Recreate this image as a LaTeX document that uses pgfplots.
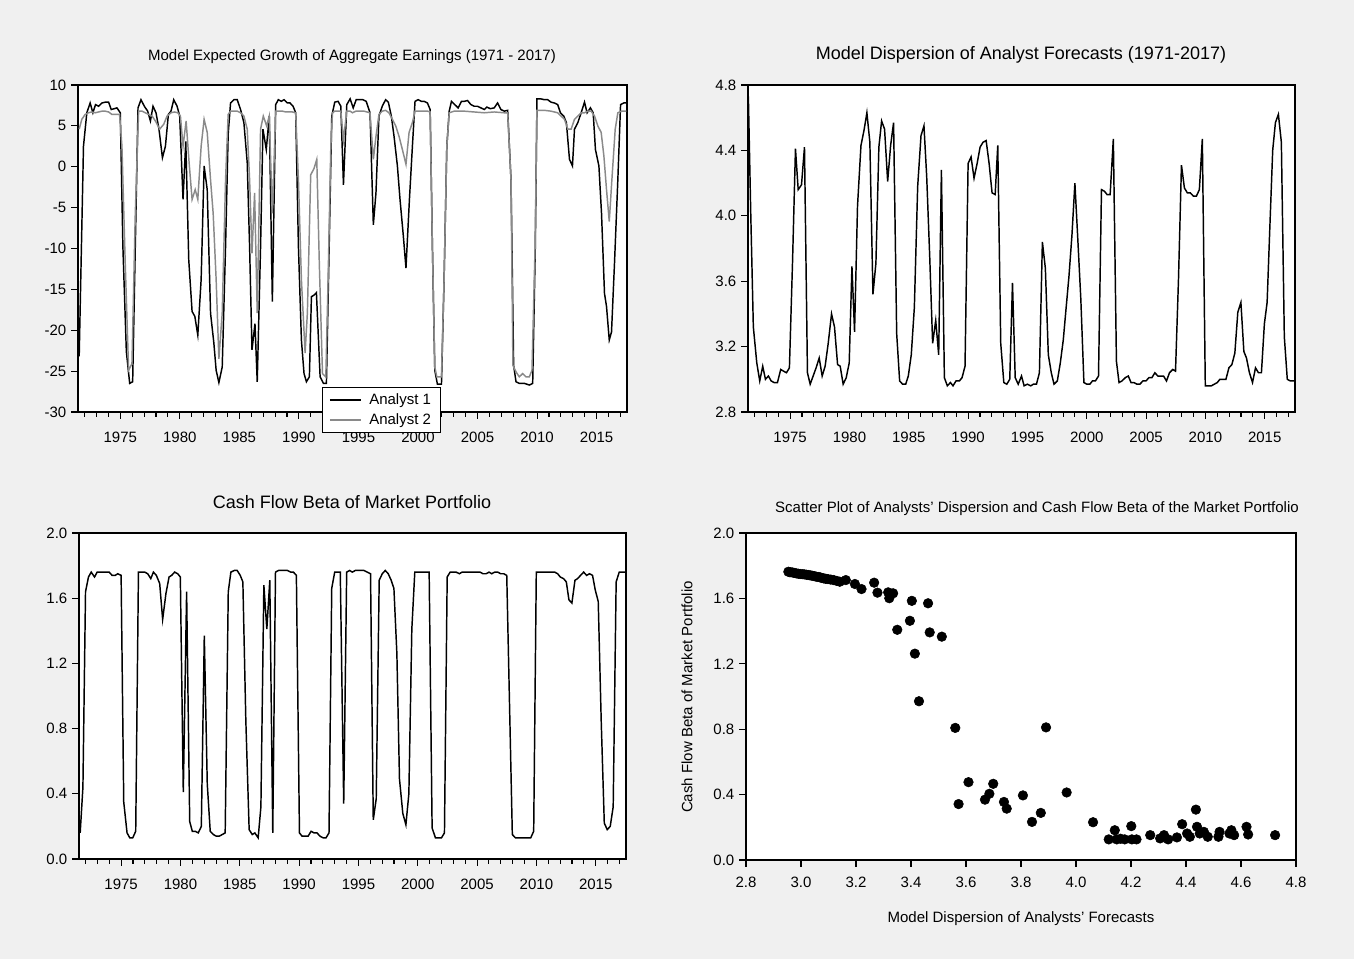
\documentclass[border=0pt]{standalone}
\usepackage{fontspec}
\setmainfont{Liberation Sans}
\usepackage{pgfplots}
\pgfplotsset{compat=1.18}

\definecolor{bgc}{HTML}{F0F0F0}
\definecolor{grayline}{HTML}{8A8A8A}

\newcommand{\smallf}{\fontsize{11.25}{13}\selectfont}
\newcommand{\bigf}{\fontsize{13.5}{16}\selectfont}

\pgfplotsset{
  panel/.style={
    scale only axis,
    anchor=south west,
    axis background/.style={fill=white},
    axis line style={line width=1.2pt},
    tick align=outside,
    xtick pos=left, ytick pos=left,
    major tick length=5.25pt,
    minor tick length=3.4pt,
    every tick/.style={black, line width=0.8pt},
    tick label style={font=\smallf},
    /pgf/number format/assume math mode=true,
    /pgf/number format/1000 sep={},
  },
  timeaxis/.style={
    panel,
    xmin=1971.45, xmax=2017.55,
    xtick={1975,1980,1985,1990,1995,2000,2005,2010,2015},
    minor xtick={1972,1973,...,2017},
    xticklabel style={yshift=-6pt},
  },
  oned/.style={
    yticklabel style={/pgf/number format/.cd, fixed, fixed zerofill, precision=1},
  },
}

\begin{document}
\begin{tikzpicture}
\useasboundingbox (0,0) rectangle (1015.5pt,719.25pt);
\fill[bgc] (0,0) rectangle (1015.5pt,719.25pt);

% ---------- top left: expected growth
\begin{axis}[timeaxis, at={(58.5pt,410.25pt)}, width=411.75pt, height=245.25pt,
  ymin=-30, ymax=10, ytick={-30,-25,...,10},
  legend style={at={(axis description cs:0.4444,0.0765)}, anchor=north west,
    draw=black, line width=0.75pt, fill=white, font=\smallf,
    inner xsep=5pt, inner ysep=2.5pt, row sep=1.5pt},
  legend cell align=left,
  legend image code/.code={\draw[#1] (0pt,0pt) -- (23.25pt,0pt); \path (27pt,0pt);},
]
\addplot[black, line width=1.1pt] coordinates {
(1971.55,-23.2) (1971.91,2.5) (1972.19,6.6) (1972.47,7.8) (1972.70,6.6) (1972.92,7.6)
(1973.18,7.4) (1973.46,7.8) (1973.74,7.9) (1974.02,7.9) (1974.24,7.0) (1974.49,7.1)
(1974.72,7.2) (1975.00,6.6) (1975.22,-9.8) (1975.51,-22.6) (1975.79,-26.5) (1976.04,-26.3)
(1976.26,-9.8) (1976.49,7.2) (1976.74,8.2) (1977.02,7.4) (1977.30,6.8) (1977.53,5.6)
(1977.75,7.4) (1978.00,6.6) (1978.25,4.6) (1978.54,1.1) (1978.79,2.5) (1979.04,6.4)
(1979.26,6.8) (1979.49,8.2) (1979.77,7.4) (1979.99,6.2) (1980.27,-4.0) (1980.50,3.1)
(1980.75,-11.4) (1981.03,-17.7) (1981.26,-18.3) (1981.51,-20.6) (1981.79,-13.8) (1982.04,0.1)
(1982.30,-2.8) (1982.58,-17.9) (1982.86,-21.6) (1983.05,-24.9) (1983.28,-26.4) (1983.56,-24.5)
(1983.84,-9.8) (1984.06,4.0) (1984.26,7.8) (1984.54,8.2) (1984.82,8.2) (1985.10,7.0)
(1985.38,5.4) (1985.66,0.5) (1985.86,-9.8) (1986.06,-22.4) (1986.31,-19.2) (1986.50,-26.3)
(1986.78,-9.8) (1986.98,4.6) (1987.26,2.1) (1987.51,6.2) (1987.77,-16.5) (1988.05,7.6)
(1988.27,8.2) (1988.52,8.0) (1988.75,8.2) (1989.03,7.8) (1989.25,7.8) (1989.51,7.4)
(1989.73,6.6) (1989.96,-9.8) (1990.21,-21.2) (1990.43,-25.3) (1990.63,-26.3) (1990.88,-25.7)
(1991.05,-15.9) (1991.27,-15.7) (1991.47,-15.4) (1991.78,-25.7) (1992.06,-26.5) (1992.31,-26.5)
(1992.54,-9.8) (1992.76,6.2) (1993.01,7.9) (1993.29,8.0) (1993.52,7.4) (1993.74,-2.2)
(1994.02,7.6) (1994.30,8.3) (1994.56,7.2) (1994.81,8.2) (1995.09,8.2) (1995.37,8.2)
(1995.65,8.0) (1995.97,6.6) (1996.25,-7.1) (1996.47,-3.2) (1996.72,6.2) (1997.00,7.4)
(1997.28,8.2) (1997.51,7.9) (1997.76,6.2) (1997.99,3.7) (1998.27,0.1) (1998.49,-4.0)
(1998.77,-8.5) (1998.99,-12.4) (1999.28,-4.0) (1999.53,2.5) (1999.75,8.0) (2000.01,8.2)
(2000.29,8.0) (2000.51,8.0) (2000.79,7.8) (2001.02,7.0) (2001.21,-9.8) (2001.41,-24.9)
(2001.63,-26.6) (2001.97,-26.6) (2002.19,-13.8) (2002.42,2.5) (2002.62,6.8) (2002.81,8.0)
(2003.09,7.6) (2003.37,7.2) (2003.65,8.0) (2003.88,8.0) (2004.16,8.1) (2004.44,7.6)
(2004.72,7.4) (2005.00,7.4) (2005.28,7.2) (2005.56,7.0) (2005.79,7.3) (2006.07,7.1)
(2006.40,7.2) (2006.68,7.8) (2006.96,7.0) (2007.24,6.8) (2007.53,6.9) (2007.81,-1.6)
(2008.03,-24.3) (2008.23,-26.3) (2008.51,-26.5) (2008.93,-26.5) (2009.35,-26.7) (2009.63,-26.5)
(2009.85,-9.8) (2009.99,8.3) (2010.33,8.3) (2010.61,8.2) (2010.89,8.2) (2011.17,7.9)
(2011.45,7.8) (2011.73,7.6) (2011.96,6.6) (2012.24,6.2) (2012.46,5.4) (2012.72,0.9)
(2012.97,0.1) (2013.14,4.6) (2013.42,5.4) (2013.70,6.6) (2013.98,7.9) (2014.20,6.6)
(2014.48,7.2) (2014.71,6.6) (2014.90,2.1) (2015.19,0.1) (2015.41,-5.7) (2015.66,-15.5)
(2015.83,-17.1) (2016.06,-21.2) (2016.25,-20.2) (2016.50,-11.8) (2016.78,-1.6) (2017.01,7.6)
(2017.29,7.8) (2017.49,7.8)
};
\addlegendentry{Analyst 1}
\addplot[grayline, line width=1.1pt] coordinates {
(1971.55,4.6) (1971.77,5.8) (1972.05,6.4) (1972.33,6.6) (1972.61,6.7) (1972.90,6.6)
(1973.18,6.7) (1973.46,6.8) (1973.74,6.8) (1974.02,6.7) (1974.30,6.4) (1974.58,6.4)
(1974.94,6.4) (1975.14,2.5) (1975.42,-12.0) (1975.70,-24.9) (1975.98,-24.1) (1976.26,-5.7)
(1976.54,6.8) (1976.82,6.8) (1977.10,6.6) (1977.38,6.4) (1977.67,6.2) (1977.95,5.6)
(1978.31,4.6) (1978.65,5.2) (1978.93,6.2) (1979.26,6.6) (1979.55,6.7) (1979.83,6.6)
(1980.05,6.2) (1980.27,2.5) (1980.53,5.6) (1980.78,0.5) (1981.03,-4.0) (1981.29,-2.8)
(1981.51,-4.0) (1981.79,2.5) (1982.04,5.8) (1982.30,4.2) (1982.58,-1.6) (1982.80,-5.7)
(1983.05,-13.8) (1983.28,-23.5) (1983.56,-17.9) (1983.84,-1.6) (1984.06,6.4) (1984.26,6.8)
(1984.54,6.8) (1984.82,6.8) (1985.10,6.6) (1985.38,6.2) (1985.66,4.6) (1985.86,-1.6)
(1986.06,-10.6) (1986.28,-3.2) (1986.50,-17.9) (1986.78,4.6) (1987.01,6.2) (1987.29,5.0)
(1987.51,6.2) (1987.77,-5.7) (1988.05,6.8) (1988.33,6.8) (1988.61,6.8) (1988.89,6.7)
(1989.17,6.7) (1989.45,6.7) (1989.73,6.6) (1989.96,-1.6) (1990.21,-13.8) (1990.52,-22.8)
(1990.71,-17.9) (1990.99,-1.0) (1991.27,-0.2) (1991.50,0.9) (1991.72,-12.2) (1991.98,-25.3)
(1992.26,-25.7) (1992.45,-13.8) (1992.68,2.5) (1992.82,6.6) (1993.01,6.8) (1993.29,6.8)
(1993.52,6.8) (1993.74,3.3) (1994.02,6.8) (1994.30,6.8) (1994.50,6.6) (1994.78,6.8)
(1995.06,6.8) (1995.46,6.8) (1995.97,6.6) (1996.25,0.9) (1996.47,3.7) (1996.72,6.4)
(1997.00,6.8) (1997.28,6.9) (1997.56,6.6) (1997.85,5.8) (1998.13,5.0) (1998.41,3.7)
(1998.69,2.1) (1998.99,0.3) (1999.25,4.2) (1999.53,5.4) (1999.75,6.8) (2000.23,6.8)
(2000.79,6.8) (2001.02,6.7) (2001.21,-9.8) (2001.41,-24.5) (2001.58,-25.7) (2001.97,-25.7)
(2002.19,-13.8) (2002.42,2.5) (2002.62,6.6) (2003.04,6.8) (2003.88,6.8) (2004.72,6.7)
(2005.56,6.6) (2006.40,6.7) (2007.24,6.6) (2007.53,6.6) (2007.81,-1.6) (2007.97,-24.3)
(2008.23,-25.1) (2008.51,-25.7) (2008.79,-25.3) (2009.07,-25.7) (2009.35,-25.7) (2009.57,-24.9)
(2009.83,-9.8) (2009.99,6.9) (2010.61,6.9) (2011.17,6.8) (2011.73,6.6) (2012.01,6.2)
(2012.30,5.8) (2012.58,4.6) (2012.86,4.6) (2013.14,5.8) (2013.42,6.2) (2013.70,6.6)
(2013.98,6.6) (2014.26,6.8) (2014.54,6.8) (2014.82,6.2) (2015.10,5.0) (2015.38,4.2)
(2015.61,1.3) (2015.83,-2.8) (2016.06,-6.7) (2016.28,-1.6) (2016.56,4.6) (2016.78,6.6)
(2017.06,6.8) (2017.49,6.8)
};
\addlegendentry{Analyst 2}
\end{axis}

% ---------- top right: dispersion
\begin{axis}[timeaxis, oned, at={(561pt,410.25pt)}, width=410.25pt, height=245.25pt,
  ymin=2.8, ymax=4.8, ytick={2.8,3.2,3.6,4.0,4.4,4.8}]
\addplot[black, line width=1.1pt] coordinates {
(1971.48,4.73) (1971.68,4.02) (1971.90,3.32) (1972.19,3.10) (1972.44,2.99) (1972.69,3.08)
(1972.92,3.00) (1973.17,3.02) (1973.40,2.99) (1973.65,2.98) (1973.93,2.98) (1974.21,3.06)
(1974.44,3.05) (1974.69,3.04) (1974.94,3.07) (1975.20,3.71) (1975.45,4.41) (1975.68,4.16)
(1975.96,4.19) (1976.21,4.42) (1976.46,3.04) (1976.69,2.97) (1976.94,3.02) (1977.19,3.07)
(1977.45,3.13) (1977.70,3.02) (1977.95,3.08) (1978.21,3.22) (1978.49,3.40) (1978.74,3.32)
(1979.00,3.09) (1979.22,3.08) (1979.47,2.97) (1979.73,3.01) (1979.98,3.10) (1980.21,3.69)
(1980.43,3.29) (1980.68,4.06) (1980.97,4.43) (1981.22,4.52) (1981.47,4.63) (1981.72,4.45)
(1981.98,3.52) (1982.23,3.71) (1982.48,4.42) (1982.71,4.58) (1982.96,4.53) (1983.22,4.21)
(1983.47,4.43) (1983.72,4.57) (1983.98,3.28) (1984.23,2.99) (1984.48,2.97) (1984.74,2.97)
(1984.96,3.02) (1985.21,3.15) (1985.47,3.44) (1985.75,4.18) (1986.03,4.49) (1986.28,4.55)
(1986.51,4.24) (1986.76,3.76) (1987.01,3.22) (1987.27,3.36) (1987.52,3.15) (1987.75,4.28)
(1988.00,3.01) (1988.25,2.96) (1988.51,2.98) (1988.73,2.96) (1988.98,2.99) (1989.27,2.99)
(1989.49,3.01) (1989.74,3.08) (1990.00,4.32) (1990.25,4.36) (1990.50,4.23) (1990.76,4.32)
(1991.01,4.42) (1991.26,4.45) (1991.52,4.46) (1991.77,4.32) (1992.02,4.14) (1992.28,4.13)
(1992.50,4.43) (1992.75,3.22) (1993.01,2.98) (1993.26,2.97) (1993.51,3.00) (1993.74,3.59)
(1993.97,3.01) (1994.22,2.97) (1994.50,3.02) (1994.72,2.96) (1995.00,2.97) (1995.28,2.96)
(1995.50,2.97) (1995.76,2.97) (1996.01,3.04) (1996.26,3.84) (1996.51,3.68) (1996.76,3.15)
(1997.01,3.04) (1997.24,2.97) (1997.52,2.99) (1997.77,3.10) (1998.02,3.24) (1998.24,3.42)
(1998.50,3.63) (1998.75,3.88) (1999.00,4.20) (1999.25,3.85) (1999.50,3.49) (1999.76,2.98)
(2000.01,2.97) (2000.26,2.97) (2000.48,2.99) (2000.73,2.99) (2000.99,3.02) (2001.24,4.16)
(2001.49,4.15) (2001.71,4.13) (2001.97,4.13) (2002.24,4.47) (2002.50,3.11) (2002.72,2.98)
(2002.97,2.99) (2003.25,3.01) (2003.50,3.02) (2003.73,2.98) (2003.98,2.98) (2004.23,2.97)
(2004.48,2.97) (2004.73,2.99) (2004.99,2.99) (2005.24,3.01) (2005.49,3.01) (2005.74,3.04)
(2005.99,3.02) (2006.24,3.02) (2006.47,3.02) (2006.72,2.99) (2006.97,3.04) (2007.25,3.06)
(2007.48,3.05) (2007.73,3.61) (2007.98,4.31) (2008.23,4.17) (2008.48,4.14) (2008.73,4.14)
(2008.99,4.12) (2009.24,4.12) (2009.49,4.16) (2009.74,4.47) (2009.99,2.96) (2010.24,2.96)
(2010.50,2.96) (2010.75,2.97) (2011.00,2.98) (2011.22,3.00) (2011.48,3.00) (2011.73,3.00)
(2011.98,3.07) (2012.23,3.09) (2012.48,3.16) (2012.73,3.41) (2012.99,3.47) (2013.24,3.17)
(2013.46,3.13) (2013.71,3.04) (2013.97,2.98) (2014.22,3.07) (2014.47,3.04) (2014.72,3.04)
(2014.97,3.34) (2015.20,3.47) (2015.42,3.91) (2015.67,4.40) (2015.90,4.57) (2016.15,4.62)
(2016.40,4.45) (2016.65,3.26) (2016.90,3.00) (2017.15,2.99) (2017.41,2.99) (2017.50,2.99)
};
\end{axis}

% ---------- bottom left: cash flow beta
\begin{axis}[timeaxis, oned, at={(59.25pt,75pt)}, width=410.25pt, height=244.5pt,
  ymin=0, ymax=2, ytick={0,0.4,0.8,1.2,1.6,2.0}]
\addplot[black, line width=1.1pt] coordinates {
(1971.55,0.16) (1971.78,0.44) (1972.00,1.64) (1972.25,1.73) (1972.48,1.76) (1972.76,1.73)
(1972.98,1.76) (1973.23,1.76) (1973.49,1.76) (1973.74,1.76) (1973.99,1.76) (1974.24,1.74)
(1974.50,1.74) (1974.72,1.75) (1975.00,1.74) (1975.22,0.35) (1975.50,0.16) (1975.73,0.13)
(1975.98,0.13) (1976.23,0.17) (1976.46,1.76) (1976.74,1.76) (1976.99,1.76) (1977.24,1.75)
(1977.50,1.72) (1977.72,1.76) (1977.97,1.74) (1978.25,1.69) (1978.50,1.47) (1978.78,1.63)
(1979.04,1.73) (1979.26,1.74) (1979.51,1.76) (1979.77,1.75) (1979.99,1.73) (1980.24,0.41)
(1980.52,1.64) (1980.78,0.23) (1981.00,0.17) (1981.25,0.17) (1981.50,0.16) (1981.76,0.20)
(1982.01,1.37) (1982.26,0.46) (1982.51,0.17) (1982.77,0.15) (1983.02,0.14) (1983.27,0.14)
(1983.52,0.15) (1983.77,0.16) (1984.03,1.64) (1984.25,1.76) (1984.53,1.77) (1984.78,1.77)
(1985.04,1.74) (1985.26,1.70) (1985.51,0.85) (1985.79,0.18) (1986.05,0.15) (1986.27,0.16)
(1986.55,0.13) (1986.78,0.32) (1987.03,1.68) (1987.28,1.41) (1987.53,1.71) (1987.78,0.16)
(1988.01,1.76) (1988.26,1.77) (1988.51,1.77) (1988.77,1.77) (1989.02,1.77) (1989.30,1.76)
(1989.52,1.76) (1989.77,1.74) (1990.03,0.16) (1990.25,0.14) (1990.50,0.14) (1990.76,0.14)
(1991.01,0.17) (1991.26,0.16) (1991.51,0.16) (1991.76,0.14) (1992.02,0.13) (1992.27,0.13)
(1992.52,0.16) (1992.75,1.66) (1993.00,1.76) (1993.25,1.76) (1993.47,1.76) (1993.76,0.34)
(1994.01,1.76) (1994.26,1.77) (1994.48,1.76) (1994.74,1.77) (1994.99,1.77) (1995.24,1.77)
(1995.47,1.77) (1995.75,1.76) (1996.02,1.75) (1996.25,0.24) (1996.50,0.37) (1996.75,1.71)
(1997.01,1.75) (1997.26,1.77) (1997.51,1.75) (1997.76,1.71) (1997.99,1.66) (1998.24,1.26)
(1998.46,0.49) (1998.74,0.28) (1999.00,0.21) (1999.25,0.40) (1999.50,1.41) (1999.75,1.76)
(2000.01,1.76) (2000.26,1.76) (2000.51,1.76) (2000.96,1.76) (2001.21,0.19) (2001.49,0.13)
(2001.75,0.13) (2002.00,0.13) (2002.25,0.16) (2002.48,1.73) (2002.73,1.76) (2002.98,1.76)
(2003.23,1.76) (2003.51,1.75) (2003.74,1.76) (2004.02,1.76) (2004.24,1.76) (2004.50,1.76)
(2004.75,1.76) (2005.00,1.76) (2005.25,1.76) (2005.50,1.75) (2005.76,1.75) (2006.01,1.76)
(2006.23,1.75) (2006.49,1.76) (2006.74,1.76) (2006.99,1.75) (2007.24,1.75) (2007.50,1.74)
(2007.97,0.15) (2008.23,0.13) (2008.51,0.13) (2008.76,0.13) (2009.01,0.13) (2009.26,0.13)
(2009.52,0.13) (2009.77,0.17) (2009.99,1.76) (2010.27,1.76) (2010.53,1.76) (2010.78,1.76)
(2011.03,1.76) (2011.28,1.76) (2011.54,1.76) (2011.79,1.75) (2012.01,1.73) (2012.29,1.72)
(2012.52,1.70) (2012.74,1.59) (2012.99,1.57) (2013.25,1.71) (2013.47,1.72) (2013.72,1.74)
(2013.98,1.76) (2014.23,1.74) (2014.48,1.75) (2014.73,1.74) (2014.96,1.65) (2015.21,1.58)
(2015.46,0.85) (2015.72,0.22) (2015.97,0.18) (2016.22,0.20) (2016.47,0.32) (2016.72,1.70)
(2016.98,1.76) (2017.23,1.76) (2017.48,1.76)
};
\end{axis}

% ---------- bottom right: scatter
\begin{axis}[panel, at={(559.5pt,74.25pt)}, width=412.5pt, height=245.25pt,
  xmin=2.8, xmax=4.8, xtick={2.8,3.0,3.2,3.4,3.6,3.8,4.0,4.2,4.4,4.6,4.8},
  ymin=0, ymax=2, ytick={0,0.4,0.8,1.2,1.6,2.0},
  xticklabel style={yshift=-3.75pt, /pgf/number format/.cd, fixed, fixed zerofill, precision=1},
  yticklabel style={/pgf/number format/.cd, fixed, fixed zerofill, precision=1},
  clip=false]
\addplot[only marks, mark=*, mark size=3.6pt, black] coordinates {
(2.954,1.763) (2.960,1.760) (2.968,1.759) (2.975,1.756) (2.983,1.753) (2.990,1.751)
(2.997,1.749) (3.005,1.748) (3.012,1.747) (3.019,1.745) (3.026,1.743) (3.033,1.741)
(3.040,1.739) (3.048,1.736) (3.055,1.733) (3.062,1.731) (3.069,1.729) (3.076,1.725)
(3.083,1.722) (3.090,1.720) (3.098,1.718) (3.108,1.715) (3.119,1.712) (3.130,1.707)
(3.141,1.702) (3.163,1.712) (3.196,1.688) (3.220,1.657) (3.266,1.696) (3.278,1.635)
(3.321,1.601) (3.317,1.637) (3.335,1.631) (3.350,1.408) (3.396,1.463) (3.403,1.585)
(3.414,1.262) (3.429,0.971) (3.462,1.570) (3.468,1.392) (3.512,1.366) (3.561,0.808)
(3.573,0.342) (3.609,0.476) (3.669,0.369) (3.685,0.405) (3.699,0.466) (3.738,0.355)
(3.748,0.314) (3.807,0.395) (3.840,0.233) (3.872,0.288) (3.891,0.811) (3.966,0.413)
(4.062,0.231) (4.119,0.126) (4.141,0.182) (4.148,0.126) (4.162,0.130) (4.177,0.126)
(4.201,0.207) (4.203,0.126) (4.220,0.126) (4.270,0.152) (4.306,0.132) (4.320,0.152)
(4.335,0.126) (4.367,0.138) (4.386,0.219) (4.404,0.162) (4.414,0.142) (4.436,0.308)
(4.440,0.203) (4.450,0.162) (4.465,0.172) (4.479,0.142) (4.518,0.142) (4.522,0.172)
(4.558,0.162) (4.565,0.182) (4.575,0.152) (4.620,0.203) (4.626,0.156) (4.724,0.152)
};
\end{axis}

% titles and labels
\node[font=\smallf] at (264pt,676.5pt) {Model Expected Growth of Aggregate Earnings (1971 - 2017)};
\node[font=\bigf] at (765.75pt,678pt) {Model Dispersion of Analyst Forecasts (1971-2017)};
\node[font=\bigf] at (264pt,342.75pt) {Cash Flow Beta of Market Portfolio};
\node[font=\smallf] at (777.75pt,337.5pt) {Scatter Plot of Analysts’ Dispersion and Cash Flow Beta of the Market Portfolio};
\node[font=\smallf] at (765.75pt,30pt) {Model Dispersion of Analysts’ Forecasts};
\node[font=\smallf, rotate=90] at (515.25pt,196.5pt) {Cash Flow Beta of Market Portfolio};
\end{tikzpicture}
\end{document}
